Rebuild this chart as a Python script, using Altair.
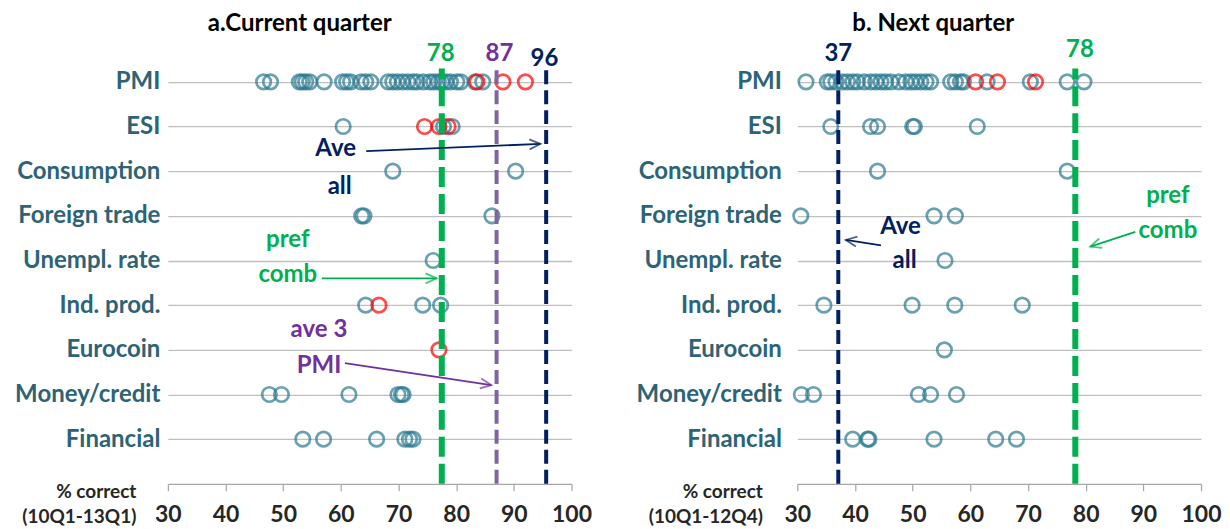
import math
import altair as alt
import pandas as pd

FONT = "Lato"
TEAL = "#2A7A91"
RED = "#FF0000"
GREEN = "#00B050"
PURPLE_LINE = "#8064A2"
PURPLE_TXT = "#7030A0"
NAVY = "#002060"
LABEL_COL = "#2D6376"

W, H = 404, 447
XMIN, XMAX = 30, 100
YMIN, YMAX = 0, 10

rows = ["PMI", "ESI", "Consumption", "Foreign trade", "Unempl. rate",
        "Ind. prod.", "Eurocoin", "Money/credit", "Financial"]
row_pos = {name: 9 - i for i, name in enumerate(rows)}

# ---------- panel a: current quarter ----------
a_teal = {
    "PMI": [46.6, 47.8, 52.8, 53.3, 53.9, 54.6, 57.1, 60.3, 61.0, 61.7, 63.5, 64.3, 65.2,
            68.2, 69.0, 69.8, 70.7, 71.6, 72.5, 73.2, 74.3, 75.4, 76.1, 76.9, 77.5, 78.2,
            79.0, 80.1, 80.8, 83.3, 84.6],
    "ESI": [60.4, 77.8, 79.3],
    "Consumption": [69.0, 90.3],
    "Foreign trade": [63.6, 64.0, 86.2],
    "Unempl. rate": [76.0],
    "Ind. prod.": [64.3, 74.2, 77.3],
    "Eurocoin": [],
    "Money/credit": [47.6, 49.7, 61.4, 69.9, 70.5, 70.8],
    "Financial": [53.4, 57.0, 66.2, 71.1, 71.9, 72.5],
}
a_red = {
    "PMI": [83.6, 88.1, 92.0],
    "ESI": [74.5, 77.0, 78.6],
    "Ind. prod.": [66.6],
    "Eurocoin": [77.0],
}
a_vlines = [("pref comb", 77.5, GREEN), ("ave 3 PMI", 87.0, PURPLE_LINE), ("Ave all", 95.6, NAVY)]
a_vlabels = [("78", 77.3, 9.62, GREEN), ("87", 87.5, 9.62, PURPLE_TXT), ("96", 95.3, 9.51, NAVY)]
a_texts = [("Ave", 59.1, 7.49, NAVY), ("all", 59.8, 6.65, NAVY),
           ("pref", 50.8, 5.45, GREEN), ("comb", 50.8, 4.68, GREEN),
           ("ave 3", 56.2, 3.45, PURPLE_TXT), ("PMI", 56.2, 2.64, PURPLE_TXT)]
a_arrows = [(64.4, 7.45, 94.6, 7.61, NAVY),
            (56.7, 4.60, 76.6, 4.60, GREEN),
            (60.7, 2.70, 86.1, 2.21, PURPLE_TXT)]

# ---------- panel b: next quarter ----------
b_teal = {
    "PMI": [31.5, 35.2, 35.8, 36.7, 37.8, 38.7, 39.6, 40.4, 41.6, 42.7, 43.6, 44.5, 45.3,
            46.2, 47.6, 48.8, 49.7, 50.5, 51.4, 52.3, 53.1, 56.6, 57.4, 58.3, 58.8, 62.9,
            70.4, 76.8, 79.7],
    "ESI": [35.8, 42.7, 43.9, 50.0, 50.3, 61.2],
    "Consumption": [43.9, 76.8],
    "Foreign trade": [30.6, 53.7, 57.4],
    "Unempl. rate": [55.6],
    "Ind. prod.": [34.6, 49.9, 57.3, 69.0],
    "Eurocoin": [55.5],
    "Money/credit": [30.7, 32.8, 51.0, 53.1, 57.6],
    "Financial": [39.6, 42.2, 42.4, 53.7, 64.4, 68.0],
}
b_red = {
    "PMI": [60.9, 64.7, 71.3],
}
b_vlines = [("Ave all", 37.1, NAVY), ("pref comb", 78.2, GREEN)]
b_vlabels = [("37", 37.1, 9.62, NAVY), ("78", 79.0, 9.71, GREEN)]
b_texts = [("Ave", 47.9, 5.75, NAVY), ("all", 48.6, 4.99, NAVY),
           ("pref", 94.25, 6.45, GREEN), ("comb", 94.25, 5.66, GREEN)]
b_arrows = [(44.5, 5.34, 38.4, 5.46, NAVY),
            (88.6, 5.64, 80.8, 5.31, GREEN)]

label_expr = " : ".join(
    [f"datum.value == {row_pos[r]} ? '{r}'" for r in rows]) + " : ''"

LINE_STYLE = {GREEN: (6, [20, 7]), PURPLE_LINE: (4, [14, 6]), NAVY: (4, [14, 6])}


def points_df(teal, red):
    recs = []
    for r in rows:
        for v in teal.get(r, []):
            recs.append({"row": r, "y": row_pos[r], "value": v, "kind": "teal"})
    for r in rows:
        for v in red.get(r, []):
            recs.append({"row": r, "y": row_pos[r], "value": v, "kind": "red"})
    return pd.DataFrame(recs)


def panel(title, title_dx, axis_title, teal, red, vlines, vlabels, texts, arrows,
          extent, lpad, title_x):
    xs = alt.Scale(domain=[XMIN, XMAX], nice=False, zero=False)
    ys = alt.Scale(domain=[YMIN, YMAX], nice=False, zero=False)
    x_axis = alt.Axis(values=list(range(30, 101, 10)), grid=False, domainColor="#A6A6A6",
                      tickColor="#A6A6A6", tickSize=7, domainWidth=1.2, tickWidth=1.2,
                      labelFont=FONT, labelFontSize=23, labelFontWeight="bold",
                      labelColor="#262626", labelPadding=13, labelFlush=False,
                      labelOverlap=False,
                      title=axis_title, titleFont=FONT, titleFontSize=19,
                      titleFontWeight="bold", titleColor="#262626", titleAlign="right",
                      titleBaseline="top", titleX=title_x, titleY=-1, titleLineHeight=25,
                      titleAnchor="start")
    y_axis = alt.Axis(values=list(range(1, 10)), labelExpr=label_expr, grid=True,
                      gridColor="#BFBFBF", gridWidth=1.3, domain=False, ticks=False,
                      labelFont=FONT, labelFontSize=24, labelFontWeight="bold",
                      labelColor=LABEL_COL, labelPadding=lpad, minExtent=extent,
                      maxExtent=extent, title=None)

    pts = points_df(teal, red)
    base_pts = alt.Chart(pts).mark_point(shape="circle", filled=False, size=210,
                                         strokeWidth=2.7).encode(
        x=alt.X("value:Q", scale=xs, axis=x_axis),
        y=alt.Y("y:Q", scale=ys, axis=y_axis),
        color=alt.Color("kind:N", scale=alt.Scale(domain=["teal", "red"], range=[TEAL, RED]),
                        legend=None),
        order=alt.Order("kind:N", sort="descending"),
    )
    layers = [base_pts]

    for name, v, col in vlines:
        sw, dash = LINE_STYLE[col]
        df = pd.DataFrame({"x": [v], "y0": [0.0], "y1": [9.3]})
        layers.append(alt.Chart(df).mark_rule(color=col, strokeWidth=sw, strokeDash=dash).encode(
            x=alt.X("x:Q", scale=xs), y=alt.Y("y0:Q", scale=ys), y2="y1:Q"))

    tdf = pd.DataFrame([{"t": t, "x": x, "y": y, "c": c} for t, x, y, c in vlabels + texts])
    layers.append(alt.Chart(tdf).mark_text(font=FONT, fontSize=24, fontWeight="bold",
                                           align="center", baseline="middle").encode(
        x=alt.X("x:Q", scale=xs), y=alt.Y("y:Q", scale=ys), text="t:N",
        color=alt.Color("c:N", scale=None)))

    px_x = W / (XMAX - XMIN)
    px_y = H / (YMAX - YMIN)
    arecs = []
    for x1, y1, x2, y2, c in arrows:
        ang = math.degrees(math.atan2(-(y2 - y1) * px_y, (x2 - x1) * px_x)) % 360
        arecs.append({"x1": x1, "y1": y1, "x2": x2, "y2": y2, "c": c, "ang": ang})
    adf = pd.DataFrame(arecs)
    layers.append(alt.Chart(adf).mark_rule(strokeWidth=1.8).encode(
        x=alt.X("x1:Q", scale=xs), y=alt.Y("y1:Q", scale=ys),
        x2="x2:Q", y2="y2:Q",
        color=alt.Color("c:N", scale=None)))
    layers.append(alt.Chart(adf).mark_point(shape="M-2,-0.9L0,0L-2,0.9", filled=False,
                                            size=121, strokeWidth=1.8).encode(
        x=alt.X("x2:Q", scale=xs), y=alt.Y("y2:Q", scale=ys),
        angle=alt.Angle("ang:Q", scale=None),
        color=alt.Color("c:N", scale=None)))

    return alt.layer(*layers).properties(
        width=W, height=H,
        title=alt.TitleParams(title, font=FONT, fontSize=24, fontWeight="bold",
                              color="#000000", anchor="middle", offset=1, dx=title_dx))


left = panel("a.Current quarter", -70, ["% correct", "(10Q1-13Q1)"], a_teal, a_red,
             a_vlines, a_vlabels, a_texts, a_arrows, 160, 8, -32)
right = panel("b. Next quarter", -66, ["% correct", "(10Q1-12Q4)"], b_teal, b_red,
              b_vlines, b_vlabels, b_texts, b_arrows, 170, 16, -35)

chart = alt.hconcat(left, right, spacing=35).properties(
    padding={"left": 0, "top": 4, "right": 0, "bottom": 0},
    background="white"
).configure_view(stroke=None, strokeWidth=0)

chart.save("out.html", embed_options={"renderer": "svg", "actions": False})
